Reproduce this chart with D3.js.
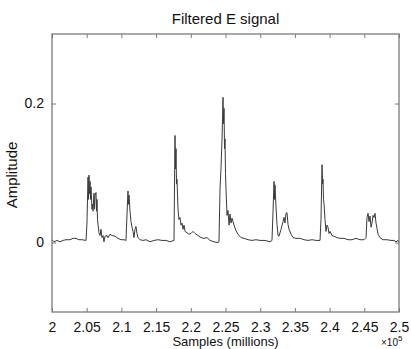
<!DOCTYPE html>
<html>
<head>
<meta charset="utf-8">
<script src="https://cdn.jsdelivr.net/npm/d3@7/dist/d3.min.js"></script>
<style>
  html, body { margin: 0; padding: 0; background: #fff; }
  svg { display: block; }
  text { font-family: "Liberation Sans", Arial, Helvetica, sans-serif; fill: #111; }
</style>
</head>
<body>
<svg id="chart" width="411" height="349"></svg>
<script>
// ---- data (x in units of 10^5 samples, y amplitude) ----
const title = "Filtered E signal";
const xLabel = "Samples (millions)";
const yLabel = "Amplitude";
const xTicks = [2, 2.05, 2.1, 2.15, 2.2, 2.25, 2.3, 2.35, 2.4, 2.45, 2.5];
const xTickLabels = ["2", "2.05", "2.1", "2.15", "2.2", "2.25", "2.3", "2.35", "2.4", "2.45", "2.5"];
const yTicks = [0, 0.2];
const yTickLabels = ["0", "0.2"];
const xDomain = [2, 2.5];
const yDomain = [-0.1, 0.3];

const sampleX = [
  2.0000, 2.0029, 2.0072, 2.0115, 2.0159, 2.0202, 2.0259, 2.0303, 2.0346, 2.0389, 2.0432, 2.0490,
  2.0504, 2.0519, 2.0526, 2.0533, 2.0540, 2.0548, 2.0555, 2.0562, 2.0576, 2.0584, 2.0591, 2.0605,
  2.0612, 2.0620, 2.0634, 2.0641, 2.0648, 2.0656, 2.0663, 2.0677, 2.0692, 2.0706, 2.0720, 2.0735,
  2.0749, 2.0764, 2.0793, 2.0807, 2.0836, 2.0865, 2.0908, 2.0951, 2.0994, 2.1038, 2.1066,
  2.1081, 2.1095, 2.1102, 2.1110, 2.1124, 2.1138, 2.1153, 2.1167, 2.1182, 2.1196, 2.1210, 2.1225,
  2.1239, 2.1268, 2.1311, 2.1355, 2.1412, 2.1470, 2.1527, 2.1585, 2.1643, 2.1700, 2.1758,
  2.1772, 2.1780, 2.1787, 2.1794, 2.1801, 2.1808, 2.1816, 2.1830, 2.1844, 2.1859, 2.1873, 2.1888,
  2.1902, 2.1917, 2.1945, 2.1974, 2.2003, 2.2032, 2.2061, 2.2104, 2.2147, 2.2190, 2.2234, 2.2277,
  2.2334, 2.2392,
  2.2406, 2.2421, 2.2435, 2.2450, 2.2457, 2.2464, 2.2471, 2.2479, 2.2486, 2.2493, 2.2500, 2.2507,
  2.2522, 2.2536, 2.2551, 2.2565, 2.2579, 2.2594, 2.2623, 2.2651, 2.2680, 2.2723, 2.2767, 2.2824,
  2.2882, 2.2940, 2.2997, 2.3069, 2.3141,
  2.3170, 2.3185, 2.3199, 2.3206, 2.3213, 2.3228, 2.3242, 2.3257, 2.3271, 2.3300, 2.3329, 2.3343,
  2.3357, 2.3372, 2.3386, 2.3401, 2.3415, 2.3444, 2.3473, 2.3516, 2.3574, 2.3631, 2.3689, 2.3747,
  2.3804, 2.3862,
  2.3876, 2.3891, 2.3898, 2.3905, 2.3912, 2.3920, 2.3934, 2.3948, 2.3963, 2.3977, 2.3992, 2.4006,
  2.4035, 2.4064, 2.4107, 2.4150, 2.4208, 2.4265, 2.4323, 2.4381, 2.4438, 2.4496,
  2.4525, 2.4539, 2.4554, 2.4568, 2.4582, 2.4597, 2.4611, 2.4626, 2.4640, 2.4654, 2.4669, 2.4683,
  2.4698, 2.4726, 2.4770, 2.4827, 2.4885, 2.4928, 2.4957, 2.4986, 2.5000
];
const amplitude = [
  0.004, 0.001, 0.003, 0.001, 0.003, 0.004, 0.004, 0.006, 0.006, 0.004, 0.004, 0.003,
  0.028, 0.094, 0.062, 0.097, 0.070, 0.088, 0.062, 0.080, 0.048, 0.055, 0.045, 0.071,
  0.048, 0.068, 0.072, 0.045, 0.062, 0.033, 0.026, 0.014, 0.010, 0.019, 0.007, 0.010,
  0.001, 0.009, 0.010, 0.007, 0.012, 0.010, 0.009, 0.006, 0.004, 0.004, 0.003,
  0.041, 0.074, 0.055, 0.068, 0.045, 0.030, 0.022, 0.016, 0.007, 0.019, 0.023, 0.013,
  0.007, 0.004, 0.003, 0.004, 0.001, 0.003, 0.004, 0.003, 0.003, 0.001, 0.003,
  0.154, 0.106, 0.135, 0.084, 0.091, 0.070, 0.048, 0.033, 0.036, 0.025, 0.028, 0.019,
  0.025, 0.016, 0.014, 0.012, 0.013, 0.016, 0.013, 0.010, 0.007, 0.006, 0.007, 0.003,
  0.001, 0.000,
  0.001, 0.077, 0.106, 0.149, 0.178, 0.209, 0.171, 0.193, 0.135, 0.149, 0.099, 0.077,
  0.039, 0.046, 0.025, 0.041, 0.028, 0.035, 0.025, 0.017, 0.012, 0.007, 0.006, 0.004,
  0.003, 0.004, 0.003, 0.003, 0.001,
  0.003, 0.045, 0.088, 0.062, 0.083, 0.051, 0.026, 0.010, 0.009, 0.019, 0.030, 0.036,
  0.028, 0.042, 0.043, 0.026, 0.019, 0.012, 0.007, 0.006, 0.006, 0.004, 0.003, 0.004,
  0.003, 0.003,
  0.033, 0.112, 0.084, 0.091, 0.062, 0.055, 0.033, 0.016, 0.025, 0.022, 0.013, 0.016,
  0.010, 0.009, 0.007, 0.006, 0.006, 0.004, 0.004, 0.006, 0.004, 0.004,
  0.007, 0.036, 0.042, 0.030, 0.038, 0.022, 0.028, 0.039, 0.036, 0.042, 0.028, 0.020,
  0.012, 0.007, 0.004, 0.004, 0.003, 0.003, 0.001, 0.003, 0.000
];

// ---- layout ----
const plot = { left: 52, right: 399, top: 34, bottom: 312 };
const svg = d3.select("#chart");

const x = d3.scaleLinear().domain(xDomain).range([plot.left, plot.right]);
const y = d3.scaleLinear().domain(yDomain).range([plot.bottom, plot.top]);

const axisColor = "#7a7a7a";
const tickLen = 4;

// signal line
const pts = sampleX.map((v, i) => [v, amplitude[i]]);
svg.append("path")
  .datum(pts)
  .attr("fill", "none")
  .attr("stroke", "#3a3a3a")
  .attr("stroke-width", 1)
  .attr("stroke-linejoin", "round")
  .attr("d", d3.line().x(d => x(d[0])).y(d => y(d[1])));

// axes (MATLAB box style: ticks inward on all four sides)
function styleAxis(g) {
  g.select(".domain").remove();
  g.selectAll(".tick line").attr("stroke", axisColor).attr("stroke-width", 1);
  g.selectAll(".tick text").style("font-size", "14px").attr("fill", "#111");
}
const fmtX = (d, i) => xTickLabels[i];
const fmtY = (d, i) => yTickLabels[i];

svg.append("g")
  .attr("transform", `translate(0,${plot.bottom})`)
  .call(d3.axisBottom(x).tickValues(xTicks).tickFormat(fmtX).tickSizeInner(-tickLen).tickSizeOuter(0).tickPadding(10))
  .call(styleAxis);
svg.append("g")
  .attr("transform", `translate(0,${plot.top})`)
  .call(d3.axisTop(x).tickValues(xTicks).tickFormat("").tickSizeInner(-tickLen).tickSizeOuter(0))
  .call(styleAxis);
svg.append("g")
  .attr("transform", `translate(${plot.left},0)`)
  .call(d3.axisLeft(y).tickValues(yTicks).tickFormat(fmtY).tickSizeInner(-tickLen).tickSizeOuter(0).tickPadding(8))
  .call(styleAxis);
svg.append("g")
  .attr("transform", `translate(${plot.right},0)`)
  .call(d3.axisRight(y).tickValues(yTicks).tickFormat("").tickSizeInner(-tickLen).tickSizeOuter(0))
  .call(styleAxis);

// box
svg.append("rect")
  .attr("x", plot.left).attr("y", plot.top)
  .attr("width", plot.right - plot.left).attr("height", plot.bottom - plot.top)
  .attr("fill", "none").attr("stroke", axisColor).attr("stroke-width", 1.3);

// title
svg.append("text")
  .attr("x", (plot.left + plot.right) / 2).attr("y", 24)
  .attr("text-anchor", "middle").style("font-size", "15px")
  .text(title);

// x label
svg.append("text")
  .attr("x", (plot.left + plot.right) / 2).attr("y", 346)
  .attr("text-anchor", "middle").style("font-size", "13px")
  .text(xLabel);

// exponent
const ex = svg.append("text").attr("x", 381).attr("y", 346).style("font-size", "10px");
ex.append("tspan").text("×10");
ex.append("tspan").attr("dy", -5).style("font-size", "8px").text("5");

// y label
svg.append("text")
  .attr("transform", `translate(17,175) rotate(-90)`)
  .attr("text-anchor", "middle").style("font-size", "15px")
  .text(yLabel);
</script>
</body>
</html>
